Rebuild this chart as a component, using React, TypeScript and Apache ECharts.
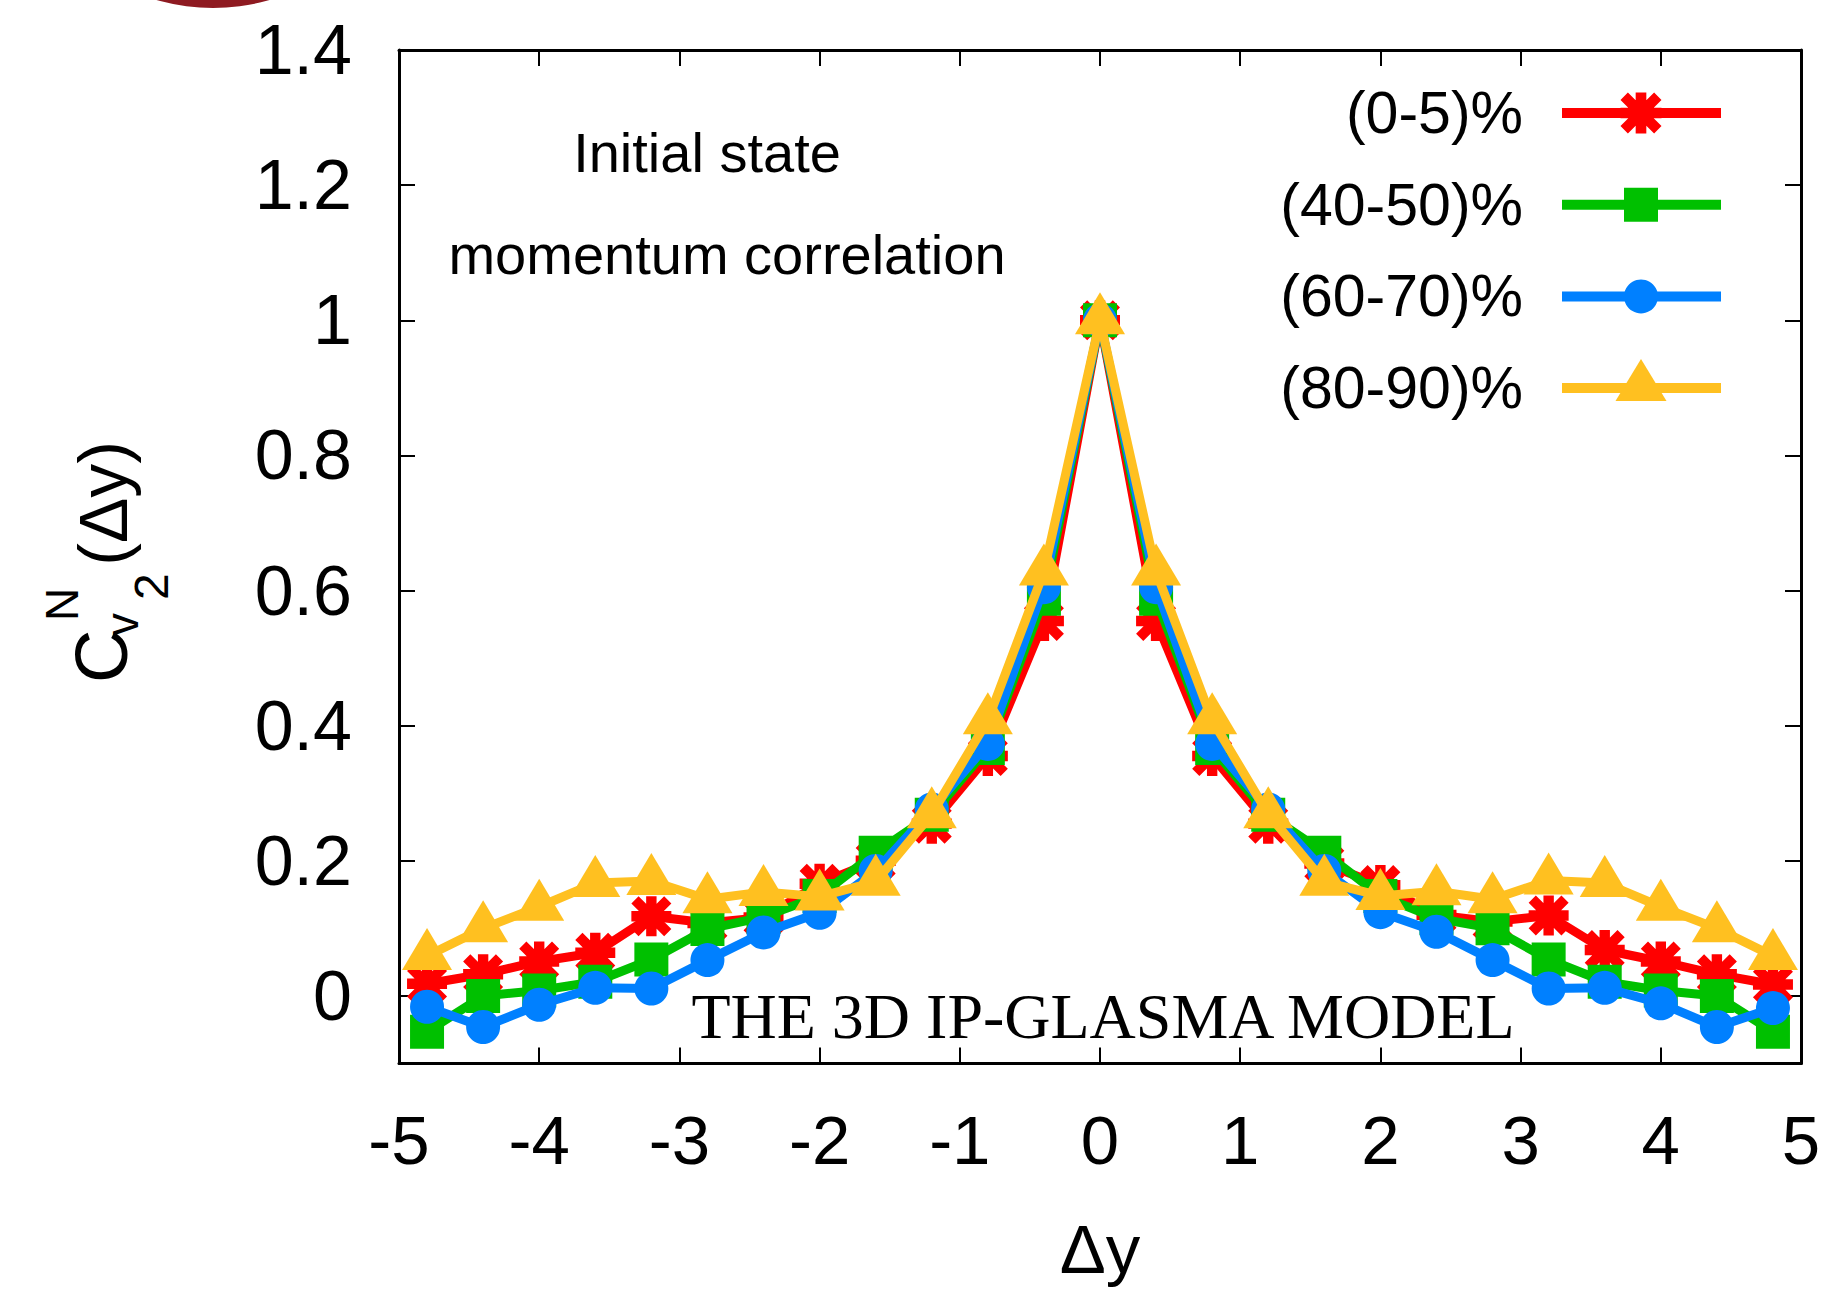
import { useEffect, useRef } from "react";
import * as echarts from "echarts";

// Rapidity separation Δy of the sampled bins
const dy = [-4.8, -4.4, -4.0, -3.6, -3.2, -2.8, -2.4, -2.0, -1.6, -1.2, -0.8, -0.4, 0, 0.4, 0.8, 1.2, 1.6, 2.0, 2.4, 2.8, 3.2, 3.6, 4.0, 4.4, 4.8];

// Normalised v2 correlator for each centrality class
const cent0to5 = [0.018, 0.032, 0.051, 0.064, 0.118, 0.108, 0.116, 0.166, 0.2, 0.255, 0.355, 0.555, 1.0, 0.555, 0.355, 0.255, 0.196, 0.164, 0.12, 0.11, 0.119, 0.068, 0.051, 0.032, 0.017];
const cent40to50 = [-0.053, 0.0, 0.008, 0.021, 0.054, 0.099, 0.117, 0.148, 0.212, 0.268, 0.367, 0.588, 1.0, 0.588, 0.367, 0.268, 0.212, 0.148, 0.115, 0.1, 0.054, 0.021, 0.008, 0.0, -0.053];
const cent60to70 = [-0.016, -0.046, -0.013, 0.012, 0.011, 0.053, 0.094, 0.123, 0.185, 0.276, 0.373, 0.605, 1.0, 0.605, 0.373, 0.276, 0.185, 0.124, 0.095, 0.053, 0.011, 0.012, -0.011, -0.046, -0.018];
const cent80to90 = [0.059, 0.1, 0.132, 0.167, 0.17, 0.143, 0.154, 0.147, 0.169, 0.269, 0.408, 0.628, 1.0, 0.628, 0.408, 0.269, 0.169, 0.148, 0.155, 0.143, 0.171, 0.167, 0.132, 0.1, 0.059];

const seriesNames = ["(0-5)%", "(40-50)%", "(60-70)%", "(80-90)%"];
const xTicks = [-5, -4, -3, -2, -1, 0, 1, 2, 3, 4, 5];
const yTicks = [0, 0.2, 0.4, 0.6, 0.8, 1, 1.2, 1.4];

const SANS = "'Liberation Sans', Arial, Helvetica, sans-serif";
const SERIF = "'Liberation Serif', 'Times New Roman', serif";

// "+" and "x" overlaid, as a filled outline on a 100x100 box
const ASTERISK_D =
  "M37 0L63 0L63 100L37 100Z M0 37L100 37L100 63L0 63Z M0 18L18 0L100 82L82 100Z M82 0L100 18L18 100L0 82Z";
echarts.graphic.registerShape("asterisk", echarts.graphic.extendPath(ASTERISK_D, {}));

const COLORS = ["#ff0000", "#00c000", "#0080ff", "#ffc020"];

const GRID = { left: 399, top: 50, right: 27, bottom: 225 };

function legendMarker(i: number, cx: number, cy: number, color: string) {
  if (i === 0) {
    return { type: "asterisk", x: cx - 20.5, y: cy - 20.5, scaleX: 0.41, scaleY: 0.41, style: { fill: color } };
  }
  if (i === 1) {
    return { type: "rect", shape: { x: cx - 17, y: cy - 17, width: 34, height: 34 }, style: { fill: color } };
  }
  if (i === 2) {
    return { type: "circle", shape: { cx, cy, r: 17 }, style: { fill: color } };
  }
  return {
    type: "polygon",
    shape: { points: [[cx, cy - 29], [cx + 25.5, cy + 13], [cx - 25.5, cy + 13]] },
    style: { fill: color },
  };
}

function txt(x: number, y: number, text: string, size: number, family: string, align = "center", extra: any = {}) {
  return {
    type: "text",
    x,
    y,
    style: {
      text,
      fontSize: size,
      fontFamily: family,
      fill: "#000",
      align,
      textAlign: align,
      verticalAlign: "middle",
      textVerticalAlign: "middle",
    },
    ...extra,
  };
}

export default function App() {
  const ref = useRef<HTMLDivElement>(null);

  useEffect(() => {
    if (!ref.current) return;
    const chart = echarts.init(ref.current, null, { renderer: "svg" });

    const valueSets = [cent0to5, cent40to50, cent60to70, cent80to90];
    const symbols: any[] = ["path://" + ASTERISK_D, "rect", "circle", "triangle"];
    const symbolSizes: any[] = [40, 34, 34, [50, 42]];
    const symbolOffsets: any[] = [[0, 0], [0, 0], [0, 0], [0, -7]];

    const series = valueSets.map((vals, i) => ({
      name: seriesNames[i],
      type: "line",
      xAxisIndex: 0,
      yAxisIndex: 0,
      data: dy.map((x, k) => [x, vals[k]]),
      symbol: symbols[i],
      symbolSize: symbolSizes[i],
      symbolOffset: symbolOffsets[i],
      showSymbol: true,
      showAllSymbol: true,
      clip: false,
      lineStyle: { color: COLORS[i], width: 9 },
      itemStyle: { color: COLORS[i] },
      emphasis: { disabled: true },
      z: 2 + i,
    }));

    const axisLine = { show: true, onZero: false, lineStyle: { color: "#000", width: 3 } };
    const axisTick = (vals: number[]) => ({
      show: true,
      inside: true,
      length: 16,
      customValues: vals,
      lineStyle: { color: "#000", width: 2 },
    });

    // Legend: right-aligned labels followed by a line sample with the marker
    const rowY0 = 113;
    const rowStep = 91.7;
    const legendItems: any[] = [];
    seriesNames.forEach((name, i) => {
      const y = rowY0 + i * rowStep;
      legendItems.push({
        type: "line",
        shape: { x1: 1562, y1: y, x2: 1721, y2: y },
        style: { stroke: COLORS[i], lineWidth: 10 },
      });
      legendItems.push(legendMarker(i, 1641, y, COLORS[i]));
      legendItems.push(txt(1523, y, name, 59, SANS, "right"));
    });

    // Rotated y-axis title C^N_{v_2}(Δy), placed piece by piece
    const base = (b: number, f: number) => b - 0.3465 * f;
    const yTitle = {
      type: "group",
      x: 127,
      y: 683,
      rotation: Math.PI / 2,
      children: [
        txt(0, base(0, 74), "C", 74, SANS, "left"),
        txt(62, base(-49, 46), "N", 46, SANS, "left"),
        txt(47, base(11, 46), "v", 46, SANS, "left"),
        txt(83, base(41, 48), "2", 48, SANS, "left"),
        txt(242, base(0, 68), "(Δy)", 68, SANS, "right"),
      ],
    };

    chart.setOption({
      animation: false,
      backgroundColor: "#ffffff",
      grid: GRID,
      xAxis: [
        {
          type: "value",
          position: "bottom",
          min: -5,
          max: 5,
          interval: 1,
          axisLine,
          axisTick: axisTick(xTicks),
          axisLabel: {
            customValues: xTicks,
            fontSize: 69,
            fontFamily: SANS,
            color: "#000",
            margin: 42,
          },
          splitLine: { show: false },
          name: "Δy",
          nameLocation: "middle",
          nameGap: 186,
          nameTextStyle: { fontSize: 69, fontFamily: SANS, color: "#000", verticalAlign: "middle" },
        },
        {
          type: "value",
          position: "top",
          min: -5,
          max: 5,
          interval: 1,
          axisLine,
          axisTick: axisTick(xTicks),
          axisLabel: { show: false },
          splitLine: { show: false },
        },
      ],
      yAxis: [
        {
          type: "value",
          position: "left",
          min: -0.1,
          max: 1.4,
          axisLine,
          axisTick: axisTick(yTicks),
          axisLabel: {
            customValues: yTicks,
            fontSize: 70,
            fontFamily: SANS,
            color: "#000",
            margin: 47,
          },
          splitLine: { show: false },
        },
        {
          type: "value",
          position: "right",
          min: -0.1,
          max: 1.4,
          axisLine,
          axisTick: axisTick(yTicks),
          axisLabel: { show: false },
          splitLine: { show: false },
        },
      ],
      series,
      graphic: [
        { type: "circle", shape: { cx: 213, cy: -196, r: 204 }, style: { fill: "#8e1a21" }, z: 0 },
        txt(707, 152, "Initial state", 56, SANS),
        txt(727, 254, "momentum correlation", 56, SANS),
        txt(1103, 1016, "THE 3D IP-GLASMA MODEL", 64, SERIF),
        yTitle,
        ...legendItems,
      ],
    });

    return () => chart.dispose();
  }, []);

  return (
    <div
      ref={ref}
      style={{ position: "fixed", left: 0, top: 0, width: 1828, height: 1289, background: "#fff" }}
    />
  );
}
